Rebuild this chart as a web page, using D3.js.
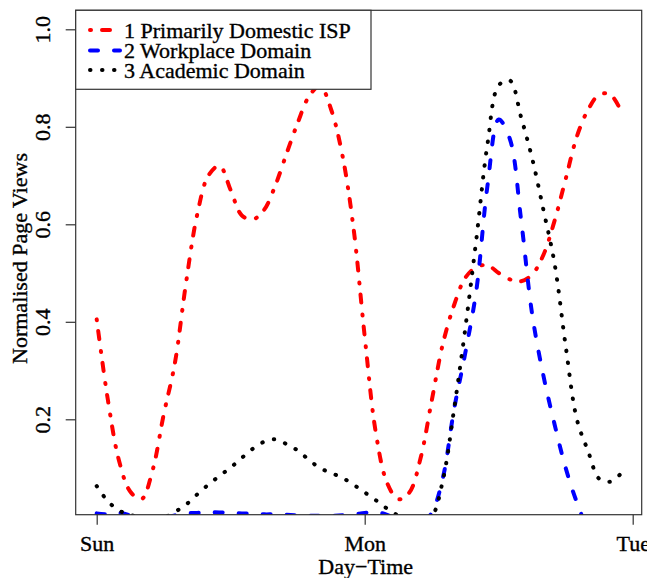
<!DOCTYPE html>
<html>
<head>
<meta charset="utf-8">
<script src="https://cdn.jsdelivr.net/npm/d3@7"></script>
<style>
  html, body { margin: 0; padding: 0; background: #fff; }
  svg { display: block; }
  text { font-family: "Liberation Serif", "Times New Roman", serif; fill: #000; stroke: #000; stroke-width: 0.35px; }
</style>
</head>
<body>
<svg id="chart" width="647" height="578"></svg>
<script>
// ---- data (hours since Sunday 00:00, normalised page views) ----
const hours = d3.range(0, 48);
const dayTicks = [0, 24, 48];
const dayLabels = ["Sun", "Mon", "Tue"];
const yTicks = [0.2, 0.4, 0.6, 0.8, 1.0];
const yTickLabels = ["0.2", "0.4", "0.6", "0.8", "1.0"];
const seriesNames = ["1 Primarily Domestic ISP", "2 Workplace Domain", "3 Academic Domain"];

const domesticISP = [0.405, 0.24, 0.115, 0.052, 0.036, 0.095, 0.21, 0.315, 0.48, 0.62,
  0.70, 0.72, 0.67, 0.618, 0.61, 0.63, 0.68, 0.745, 0.808, 0.862,
  0.884, 0.835, 0.742, 0.592, 0.37, 0.172, 0.07, 0.036, 0.05, 0.12,
  0.238, 0.355, 0.434, 0.49, 0.512, 0.516, 0.50, 0.487, 0.483, 0.497,
  0.537, 0.607, 0.693, 0.78, 0.835, 0.866, 0.866, 0.83];

const workplace = [0.007, 0.005, 0.008, 0.003, -0.004, -0.008, -0.004, 0.003, 0.007, 0.008,
  0.009, 0.009, 0.008, 0.007, 0.006, 0.005, 0.005, 0.004, 0.003, 0.002,
  0.002, 0.002, 0.003, 0.005, 0.008, 0.01, 0.004, -0.008, -0.02, -0.015,
  0.008, 0.08, 0.22, 0.335, 0.465, 0.68, 0.815, 0.775, 0.61, 0.415,
  0.29, 0.19, 0.10, 0.03, -0.02, -0.03, -0.02, -0.01];

const academic = [0.063, 0.032, 0.013, 0.004, -0.002, -0.006, -0.002, 0.01, 0.025, 0.046,
  0.066, 0.084, 0.101, 0.121, 0.14, 0.154, 0.159, 0.149, 0.136, 0.117,
  0.10, 0.09, 0.08, 0.066, 0.05, 0.034, 0.017, 0.002, -0.012, -0.012,
  0.0, 0.075, 0.22, 0.385, 0.57, 0.765, 0.885, 0.895, 0.82, 0.735,
  0.63, 0.52, 0.35, 0.20, 0.135, 0.078, 0.072, 0.09];

// ---- layout ----
const box = { left: 75.7, right: 641.7, top: 10.3, bottom: 514.7 };
const svg = d3.select("#chart");

const x = d3.scaleLinear().domain([0, 48]).range([96.7, 632.7]);
const y = d3.scaleLinear().domain([0, 1]).range([516.8, 29.3]);

const styles = [
  { data: domesticISP, color: "#ff0000", dash: "1,11,8,12" },
  { data: workplace,   color: "#0000ff", dash: "8,16" },
  { data: academic,    color: "#000000", dash: "0.5,11.5" }
];

// clip
svg.append("defs").append("clipPath").attr("id", "plotclip")
  .append("rect")
  .attr("x", box.left).attr("y", box.top)
  .attr("width", box.right - box.left).attr("height", box.bottom - box.top);

const line = d3.line()
  .x((d, i) => x(hours[i]))
  .y(d => y(d))
  .curve(d3.curveCatmullRom.alpha(0.5));

const plot = svg.append("g").attr("clip-path", "url(#plotclip)");
styles.forEach(s => {
  plot.append("path")
    .attr("d", line(s.data))
    .attr("fill", "none")
    .attr("stroke", s.color)
    .attr("stroke-width", 4)
    .attr("stroke-linecap", "round")
    .attr("stroke-linejoin", "round")
    .attr("stroke-dasharray", s.dash);
});

// box
svg.append("rect")
  .attr("x", box.left).attr("y", box.top)
  .attr("width", box.right - box.left).attr("height", box.bottom - box.top)
  .attr("fill", "none").attr("stroke", "#333").attr("stroke-width", 1.2);

// x axis
const xAxis = d3.axisBottom(x).tickValues(dayTicks)
  .tickFormat((d, i) => dayLabels[i]).tickSize(10).tickPadding(12);
const gx = svg.append("g").attr("transform", `translate(0,${box.bottom})`).call(xAxis);
gx.select(".domain").remove();
gx.selectAll(".tick line").attr("stroke", "#333").attr("stroke-width", 1.2);
gx.selectAll(".tick text")
  .attr("font-family", "Liberation Serif").attr("font-size", 22).attr("fill", "#000")
  .attr("dy", null).attr("y", 36.5);

// y axis
const yAxis = d3.axisLeft(y).tickValues(yTicks)
  .tickFormat((d, i) => yTickLabels[i]).tickSize(10);
const gy = svg.append("g").attr("transform", `translate(${box.left},0)`).call(yAxis);
gy.select(".domain").remove();
gy.selectAll(".tick line").attr("stroke", "#333").attr("stroke-width", 1.2);
gy.selectAll(".tick text")
  .attr("font-family", "Liberation Serif").attr("font-size", 22).attr("fill", "#000")
  .attr("x", null).attr("dy", null)
  .attr("text-anchor", "middle")
  .attr("transform", "translate(-25.5,0) rotate(-90)");

// axis titles
svg.append("text")
  .attr("x", (96.7 + 632.7) / 2 + 1).attr("y", 573.5)
  .attr("text-anchor", "middle").attr("font-size", 22)
  .text("Day\u2212Time");
svg.append("text")
  .attr("transform", `translate(27,${(box.top + box.bottom) / 2 - 4}) rotate(-90)`)
  .attr("text-anchor", "middle").attr("font-size", 22)
  .text("Normalised Page Views");

// legend
const lg = svg.append("g");
lg.append("rect")
  .attr("x", box.left).attr("y", box.top)
  .attr("width", 371 - box.left).attr("height", 89.3 - box.top)
  .attr("fill", "#fff").attr("stroke", "#333").attr("stroke-width", 1.2);
const rowY = [30, 50.5, 70];
styles.forEach((s, i) => {
  lg.append("line")
    .attr("x1", 90).attr("x2", 120)
    .attr("y1", rowY[i]).attr("y2", rowY[i])
    .attr("stroke", s.color).attr("stroke-width", 4)
    .attr("stroke-linecap", "round")
    .attr("stroke-dasharray", s.dash);
  lg.append("text")
    .attr("x", 124).attr("y", rowY[i] + 7.5)
    .attr("font-size", 22)
    .attr("textLength", null)
    .text(seriesNames[i]);
});
</script>
</body>
</html>
